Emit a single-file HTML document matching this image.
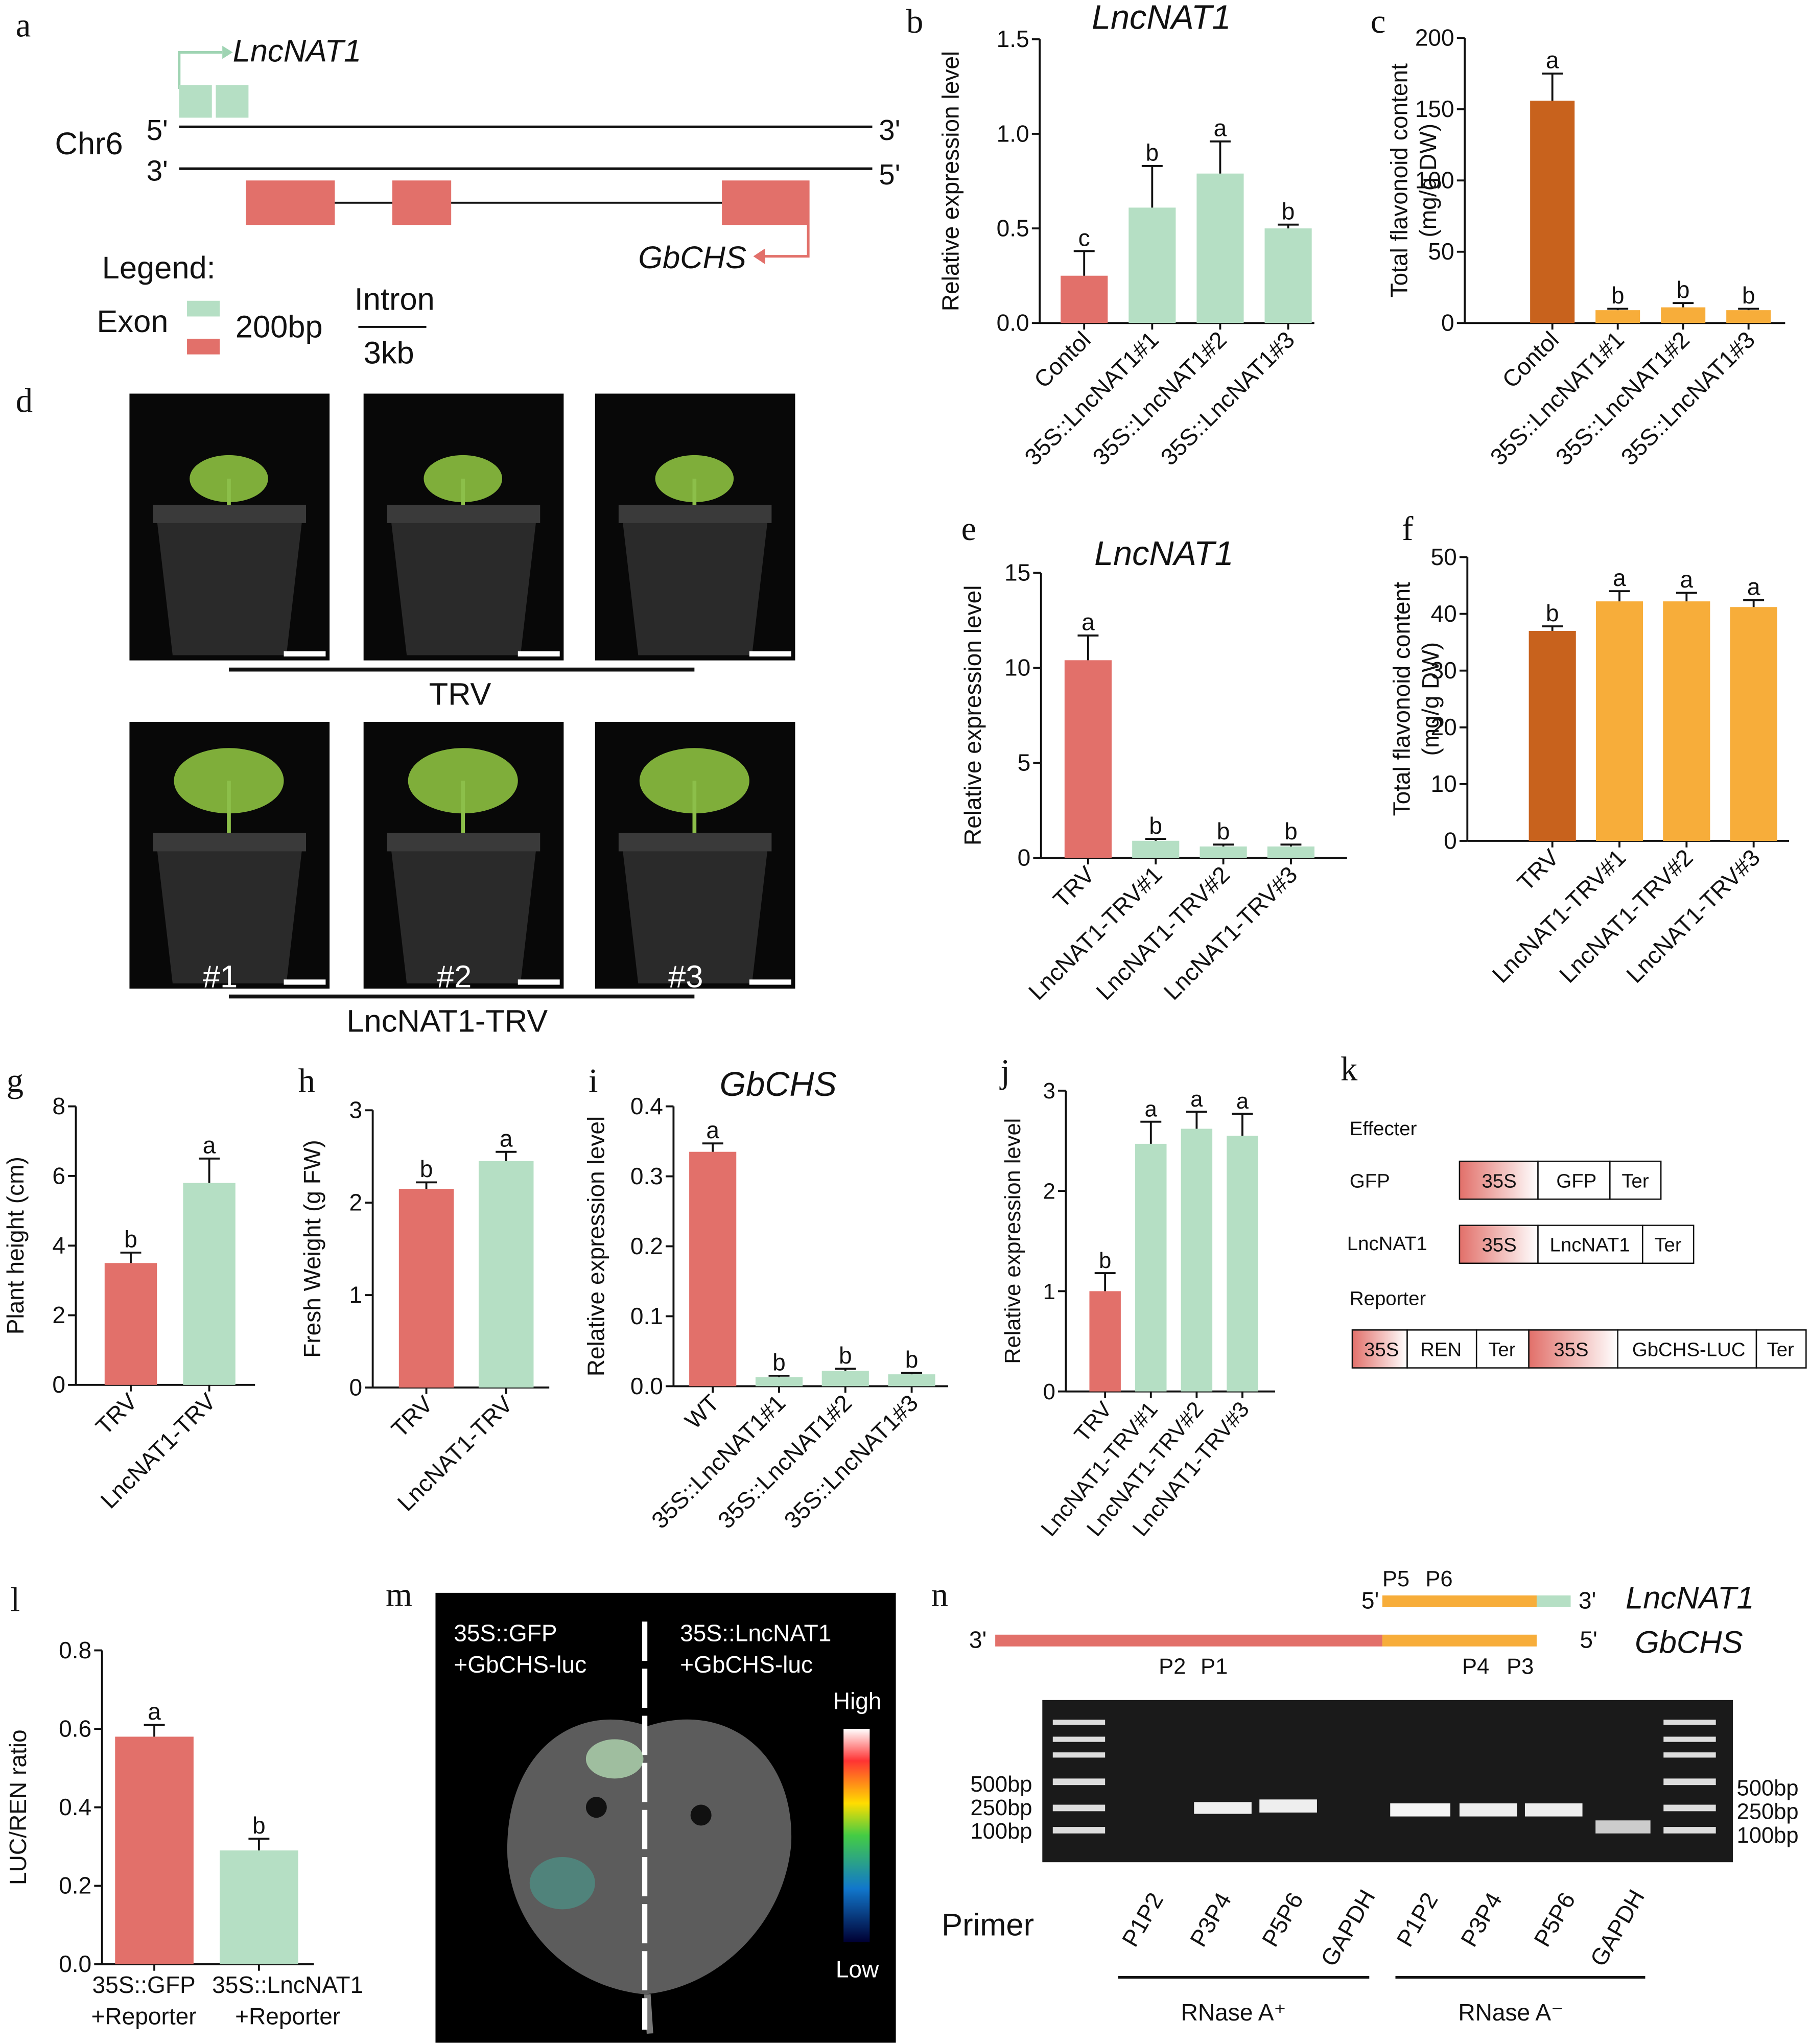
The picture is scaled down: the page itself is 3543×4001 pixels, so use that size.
<!DOCTYPE html>
<html><head><meta charset="utf-8"><style>
html,body{margin:0;padding:0;background:#fff}
svg{display:block}
text{font-family:"Liberation Sans",Arial,sans-serif;fill:#111}
</style></head><body>
<svg id="fig" xmlns="http://www.w3.org/2000/svg" width="3543" height="4001" viewBox="0 0 1384 1563" preserveAspectRatio="none">
<g id="static">
<g font-family="Liberation Serif" font-size="26">
<text x="12" y="28" style="font-family:'Liberation Serif'">a</text>
<text x="693" y="25" style="font-family:'Liberation Serif'">b</text>
<text x="1048" y="25" style="font-family:'Liberation Serif'">c</text>
<text x="12" y="315" style="font-family:'Liberation Serif'">d</text>
<text x="735" y="413" style="font-family:'Liberation Serif'">e</text>
<text x="1072" y="413" style="font-family:'Liberation Serif'">f</text>
<text x="5" y="835" style="font-family:'Liberation Serif'">g</text>
<text x="228" y="835" style="font-family:'Liberation Serif'">h</text>
<text x="450" y="835" style="font-family:'Liberation Serif'">i</text>
<text x="765" y="828" style="font-family:'Liberation Serif'">j</text>
<text x="1025" y="826" style="font-family:'Liberation Serif'">k</text>
<text x="8" y="1232" style="font-family:'Liberation Serif'">l</text>
<text x="295" y="1228" style="font-family:'Liberation Serif'">m</text>
<text x="712" y="1228" style="font-family:'Liberation Serif'">n</text>
</g>
<g>
<polyline points="137,68 137,40 170,40" fill="none" stroke="#9fd4b3" stroke-width="2"/>
<polygon points="170,35 178,40 170,45" fill="#9fd4b3"/>
<text x="178" y="47" font-size="24" font-style="italic">LncNAT1</text>
<rect x="137" y="65" width="25" height="25" fill="#b5dfc4"/><rect x="165" y="65" width="25" height="25" fill="#b5dfc4"/>
<text x="42" y="118" font-size="24">Chr6</text>
<text x="112" y="107" font-size="22">5'</text><line x1="137" y1="97" x2="667" y2="97" stroke="#111" stroke-width="2"/><text x="672" y="107" font-size="22">3'</text>
<text x="112" y="138" font-size="22">3'</text><line x1="137" y1="129" x2="667" y2="129" stroke="#111" stroke-width="2"/><text x="672" y="141" font-size="22">5'</text>
<line x1="255" y1="155" x2="552" y2="155" stroke="#111" stroke-width="1.5"/>
<rect x="188" y="138" width="68" height="34" fill="#e2706a"/><rect x="300" y="138" width="45" height="34" fill="#e2706a"/><rect x="552" y="138" width="67" height="34" fill="#e2706a"/>
<polyline points="618,172 618,196 585,196" fill="none" stroke="#e2706a" stroke-width="2"/><polygon points="585,190 576,196 585,202" fill="#e2706a"/>
<text x="488" y="205" font-size="24" font-style="italic">GbCHS</text>
<text x="78" y="213" font-size="24">Legend:</text>
<text x="74" y="254" font-size="24">Exon</text>
<rect x="143" y="230" width="25" height="12" fill="#b5dfc4"/><rect x="143" y="259" width="25" height="12" fill="#e2706a"/>
<text x="180" y="258" font-size="24">200bp</text>
<text x="271" y="237" font-size="24">Intron</text>
<line x1="274" y1="250" x2="326" y2="250" stroke="#111" stroke-width="1.5"/>
<text x="278" y="278" font-size="24">3kb</text>
</g>
<g id="photos"></g>
<line x1="175" y1="512" x2="531" y2="512" stroke="#111" stroke-width="3"/>
<text x="328" y="539" font-size="24">TRV</text>
<line x1="175" y1="762" x2="531" y2="762" stroke="#111" stroke-width="3"/>
<text x="265" y="789" font-size="24">LncNAT1-TRV</text>
<g font-size="15">
<defs><linearGradient id="g35" x1="0" x2="1"><stop offset="0" stop-color="#e2706a"/><stop offset="1" stop-color="#fff"/></linearGradient></defs>
<text x="1032" y="868">Effecter</text>
<text x="1032" y="908">GFP</text>
<rect x="1116" y="888" width="60" height="29" fill="url(#g35)" stroke="#111"/><text x="1133" y="908">35S</text>
<rect x="1176" y="888" width="55" height="29" fill="#fff" stroke="#111"/><text x="1190" y="908">GFP</text>
<rect x="1231" y="888" width="39" height="29" fill="#fff" stroke="#111"/><text x="1240" y="908">Ter</text>
<text x="1030" y="956">LncNAT1</text>
<rect x="1116" y="937" width="60" height="29" fill="url(#g35)" stroke="#111"/><text x="1133" y="957">35S</text>
<rect x="1176" y="937" width="80" height="29" fill="#fff" stroke="#111"/><text x="1185" y="957">LncNAT1</text>
<rect x="1256" y="937" width="39" height="29" fill="#fff" stroke="#111"/><text x="1265" y="957">Ter</text>
<text x="1032" y="998">Reporter</text>
<rect x="1034" y="1017" width="42" height="29" fill="url(#g35)" stroke="#111"/><text x="1043" y="1037">35S</text>
<rect x="1076" y="1017" width="53" height="29" fill="#fff" stroke="#111"/><text x="1086" y="1037">REN</text>
<rect x="1129" y="1017" width="40" height="29" fill="#fff" stroke="#111"/><text x="1138" y="1037">Ter</text>
<rect x="1169" y="1017" width="68" height="29" fill="url(#g35)" stroke="#111"/><text x="1188" y="1037">35S</text>
<rect x="1237" y="1017" width="106" height="29" fill="#fff" stroke="#111"/><text x="1248" y="1037">GbCHS-LUC</text>
<rect x="1343" y="1017" width="38" height="29" fill="#fff" stroke="#111"/><text x="1351" y="1037">Ter</text>
</g>
<g>
<rect x="333" y="1218" width="352" height="344" fill="#000"/>
<path d="M495,1320 C440,1300 385,1340 388,1420 C392,1480 440,1520 493,1525 C550,1520 600,1470 605,1410 C608,1340 555,1300 495,1320Z" fill="#5c5c5c"/>
<path d="M495,1525 L497,1555" stroke="#777" stroke-width="5"/>
<circle cx="456" cy="1382" r="8" fill="#111"/><circle cx="536" cy="1388" r="8" fill="#111"/>
<line x1="493" y1="1240" x2="493" y2="1552" stroke="#fff" stroke-width="4" stroke-dasharray="30,6"/>
<text x="347" y="1255" font-size="18" style="fill:#fff">35S::GFP</text>
<text x="347" y="1279" font-size="18" style="fill:#fff">+GbCHS-luc</text>
<text x="520" y="1255" font-size="18" style="fill:#fff">35S::LncNAT1</text>
<text x="520" y="1279" font-size="18" style="fill:#fff">+GbCHS-luc</text>
<defs><linearGradient id="heat" x1="0" y1="0" x2="0" y2="1"><stop offset="0" stop-color="#fff"/><stop offset="0.15" stop-color="#f33"/><stop offset="0.35" stop-color="#fd0"/><stop offset="0.5" stop-color="#4c4"/><stop offset="0.75" stop-color="#17c"/><stop offset="1" stop-color="#003"/></linearGradient></defs>
<rect x="645" y="1322" width="20" height="163" fill="url(#heat)"/>
<text x="637" y="1307" font-size="18" style="fill:#fff">High</text>
<text x="639" y="1512" font-size="18" style="fill:#fff">Low</text>
<ellipse cx="470" cy="1345" rx="22" ry="15" fill="#cfc" opacity="0.6"/><ellipse cx="430" cy="1440" rx="25" ry="20" fill="#4a9" opacity="0.5"/>
</g>
<g>
<text x="1057" y="1213" font-size="17">P5</text><text x="1090" y="1213" font-size="17">P6</text>
<text x="1041" y="1230" font-size="18">5'</text>
<rect x="1057" y="1220" width="118" height="9" fill="#f7ad3a"/><rect x="1175" y="1220" width="26" height="9" fill="#b5dfc4"/>
<text x="1207" y="1230" font-size="18">3'</text>
<text x="1243" y="1230" font-size="24" font-style="italic">LncNAT1</text>
<text x="741" y="1260" font-size="18">3'</text>
<rect x="761" y="1250" width="296" height="9" fill="#e2706a"/><rect x="1057" y="1250" width="118" height="9" fill="#f7ad3a"/>
<text x="1208" y="1260" font-size="18">5'</text>
<text x="1250" y="1264" font-size="24" font-style="italic">GbCHS</text>
<text x="886" y="1280" font-size="17">P2</text><text x="918" y="1280" font-size="17">P1</text>
<text x="1118" y="1280" font-size="17">P4</text><text x="1152" y="1280" font-size="17">P3</text>
<rect x="797" y="1300" width="528" height="124" fill="#1a1a1a"/>
<g fill="#ddd"><rect x="805" y="1315" width="40" height="4"/><rect x="805" y="1328" width="40" height="4"/><rect x="805" y="1340" width="40" height="4"/><rect x="805" y="1360" width="40" height="5"/><rect x="805" y="1380" width="40" height="5"/><rect x="805" y="1397" width="40" height="5"/>
<rect x="1272" y="1315" width="40" height="4"/><rect x="1272" y="1328" width="40" height="4"/><rect x="1272" y="1340" width="40" height="4"/><rect x="1272" y="1360" width="40" height="5"/><rect x="1272" y="1380" width="40" height="5"/><rect x="1272" y="1397" width="40" height="5"/>
<rect x="913" y="1378" width="44" height="9" fill="#eee"/><rect x="963" y="1376" width="44" height="10" fill="#eee"/>
<rect x="1063" y="1379" width="46" height="10" fill="#f5f5f5"/><rect x="1116" y="1379" width="44" height="10" fill="#eee"/><rect x="1166" y="1379" width="44" height="10" fill="#eee"/><rect x="1220" y="1392" width="42" height="10" fill="#ccc"/></g>
<g font-size="17"><text x="742" y="1370">500bp</text><text x="742" y="1388">250bp</text><text x="742" y="1406">100bp</text>
<text x="1328" y="1373">500bp</text><text x="1328" y="1391">250bp</text><text x="1328" y="1409">100bp</text></g>
<text x="720" y="1480" font-size="24">Primer</text>
<g font-size="18">
<text transform="translate(868,1490) rotate(-60)">P1P2</text><text transform="translate(920,1490) rotate(-60)">P3P4</text>
<text transform="translate(975,1490) rotate(-60)">P5P6</text><text transform="translate(1020,1505) rotate(-60)">GAPDH</text>
<text transform="translate(1078,1490) rotate(-60)">P1P2</text><text transform="translate(1127,1490) rotate(-60)">P3P4</text>
<text transform="translate(1183,1490) rotate(-60)">P5P6</text><text transform="translate(1226,1505) rotate(-60)">GAPDH</text></g>
<line x1="855" y1="1512" x2="1047" y2="1512" stroke="#111" stroke-width="2"/>
<line x1="1067" y1="1512" x2="1258" y2="1512" stroke="#111" stroke-width="2"/>
<text x="903" y="1545" font-size="18">RNase A⁺</text><text x="1115" y="1545" font-size="18">RNase A⁻</text>
</g>
</g>
<g id="charts"></g>
</svg>
<script>
var bCats=['Contol','35S::LncNAT1#1','35S::LncNAT1#2','35S::LncNAT1#3'];
var bVals=[0.25,0.61,0.79,0.50];var bErr=[0.13,0.22,0.17,0.02];var bLet=['c','b','a','b'];var bTicks=['0.0','0.5','1.0','1.5'];
var cCats=['Contol','35S::LncNAT1#1','35S::LncNAT1#2','35S::LncNAT1#3'];
var cVals=[156,9,11,9];var cErr=[19,1,3,1];var cLet=['a','b','b','b'];var cTicks=['0','50','100','150','200'];
var eCats=['TRV','LncNAT1-TRV#1','LncNAT1-TRV#2','LncNAT1-TRV#3'];
var eVals=[10.4,0.9,0.6,0.6];var eErr=[1.3,0.1,0.1,0.1];var eLet=['a','b','b','b'];var eTicks=['0','5','10','15'];
var fCats=['TRV','LncNAT1-TRV#1','LncNAT1-TRV#2','LncNAT1-TRV#3'];
var fVals=[37,42.2,42.2,41.2];var fErr=[0.8,1.8,1.5,1.2];var fLet=['b','a','a','a'];var fTicks=['0','10','20','30','40','50'];
var gCats=['TRV','LncNAT1-TRV'];var gVals=[3.5,5.8];var gErr=[0.3,0.7];var gLet=['b','a'];var gTicks=['0','2','4','6','8'];
var hCats=['TRV','LncNAT1-TRV'];var hVals=[2.15,2.45];var hErr=[0.07,0.1];var hLet=['b','a'];var hTicks=['0','1','2','3'];
var iCats=['WT','35S::LncNAT1#1','35S::LncNAT1#2','35S::LncNAT1#3'];
var iVals=[0.335,0.013,0.022,0.017];var iErr=[0.012,0.002,0.003,0.002];var iLet=['a','b','b','b'];var iTicks=['0.0','0.1','0.2','0.3','0.4'];
var jCats=['TRV','LncNAT1-TRV#1','LncNAT1-TRV#2','LncNAT1-TRV#3'];
var jVals=[1.0,2.47,2.62,2.55];var jErr=[0.18,0.22,0.17,0.22];var jLet=['b','a','a','a'];var jTicks=['0','1','2','3'];
var lCats=['35S::GFP\n+Reporter','35S::LncNAT1\n+Reporter'];var lVals=[0.58,0.29];var lErr=[0.03,0.03];var lLet=['a','b'];var lTicks=['0.0','0.2','0.4','0.6','0.8'];

var NS='http://www.w3.org/2000/svg';
var root=document.getElementById('charts');
function el(t,a,p){var e=document.createElementNS(NS,t);for(var k in a)e.setAttribute(k,a[k]);(p||root).appendChild(e);return e;}
var RED='#e2706a',GRN='#b5dfc4',DOR='#c8621d',ORG='#f7ad3a';

function chart(id,cats,vals,errs,lets,ticks,L){
  var g=el('g',{});
  
  
  var max=parseFloat(ticks[ticks.length-1]);
  function y(v){return L.y0-(v/max)*(L.y0-L.y1);}
  function x(i){return L.c0+i*L.step;}
  el('line',{x1:L.ax,y1:L.y1,x2:L.ax,y2:L.y0,stroke:'#111','stroke-width':1.5},g);
  el('line',{x1:L.ax,y1:L.y0,x2:L.xe,y2:L.y0,stroke:'#111','stroke-width':1.5},g);
  ticks.forEach(function(t){var v=parseFloat(t);var yy=y(v);
    el('line',{x1:L.ax-6,y1:yy,x2:L.ax,y2:yy,stroke:'#111','stroke-width':1.5},g);
    var tx=el('text',{x:L.ax-8,y:yy+6,'font-size':L.fs,'text-anchor':'end'},g);tx.textContent=t;
    
    
  });
  vals.forEach(function(v,i){
    var cx=x(i);var col=L.colors[i];
    var r=el('rect',{x:cx-L.bw/2,y:y(v),width:L.bw,height:L.y0-y(v),fill:col},g);
    
    
    var ye=y(v+errs[i]);
    el('line',{x1:cx,y1:y(v),x2:cx,y2:ye,stroke:'#111','stroke-width':1.5},g);
    el('line',{x1:cx-8,y1:ye,x2:cx+8,y2:ye,stroke:'#111','stroke-width':1.5},g);
    var lt=el('text',{x:cx,y:ye-4,'font-size':L.fs,'text-anchor':'middle'},g);lt.textContent=lets[i];
    
    
    el('line',{x1:cx,y1:L.y0,x2:cx,y2:L.y0+5,stroke:'#111','stroke-width':1.5},g);
    if(L.flat){
      var parts=cats[i].split('\n');
      var off=L.labOff?L.labOff[i]:0;
      parts.forEach(function(p,k){var ct=el('text',{x:cx+off,y:L.y0+22+k*24,'font-size':L.fs,'text-anchor':'middle'},g);ct.textContent=p;
        
        });
    } else {
      var ct=el('text',{transform:'translate('+(cx+6)+','+(L.y0+14)+') rotate(-'+(L.rot||45)+')','font-size':L.fs,'text-anchor':'end'},g);ct.textContent=cats[i];
      
      
    }
  });
  var yt=el('text',{transform:'translate('+L.yl+','+((L.y0+L.y1)/2)+') rotate(-90)','font-size':L.fs,'text-anchor':'middle'},g);
  
  
  var lines=L.ytitle.split('\n');
  lines.forEach(function(s,k){var ts=el('tspan',{x:0,dy:k?22:0},yt);ts.textContent=s;});
  if(L.title){var tt=el('text',{x:L.tx,y:L.ty,'font-size':26,'font-style':'italic','text-anchor':'middle'},g);tt.textContent=L.title;
    
    }
}
chart('b',bCats,bVals,bErr,bLet,bTicks,{ax:795,xe:1005,y0:247,y1:30,c0:829,step:52,bw:36,fs:18,colors:[RED,GRN,GRN,GRN],yl:733,ytitle:'Relative expression level',title:'LncNAT1',tx:888,ty:22});
chart('c',cCats,cVals,cErr,cLet,cTicks,{ax:1120,xe:1365,y0:247,y1:29,c0:1187,step:50,bw:34,fs:18,colors:[DOR,ORG,ORG,ORG],yl:1076,ytitle:'Total flavonoid content\n(mg/g  DW)'});
chart('e',eCats,eVals,eErr,eLet,eTicks,{ax:796,xe:1030,y0:656,y1:438,c0:832,step:51.7,bw:36,fs:18,colors:[RED,GRN,GRN,GRN],yl:750,ytitle:'Relative expression level',title:'LncNAT1',tx:890,ty:432});
chart('f',fCats,fVals,fErr,fLet,fTicks,{ax:1122,xe:1368,y0:643,y1:426,c0:1187,step:51.3,bw:36,fs:18,colors:[DOR,ORG,ORG,ORG],yl:1078,ytitle:'Total flavonoid content\n(mg/g  DW)'});
chart('g',gCats,gVals,gErr,gLet,gTicks,{ax:58,xe:195,y0:1059,y1:846,c0:100,step:60,bw:40,fs:18,colors:[RED,GRN],yl:18,ytitle:'Plant height (cm)'});
chart('h',hCats,hVals,hErr,hLet,hTicks,{ax:285,xe:420,y0:1061,y1:849,c0:326,step:61,bw:42,fs:18,colors:[RED,GRN],yl:245,ytitle:'Fresh Weight (g FW)'});
chart('i',iCats,iVals,iErr,iLet,iTicks,{ax:515,xe:725,y0:1060,y1:846,c0:545,step:50.7,bw:36,fs:18,colors:[RED,GRN,GRN,GRN],yl:462,ytitle:'Relative expression level',title:'GbCHS',tx:595,ty:838});
chart('j',jCats,jVals,jErr,jLet,jTicks,{ax:815,xe:975,y0:1064,y1:834,c0:845,step:35,bw:24,fs:17,colors:[RED,GRN,GRN,GRN],yl:780,ytitle:'Relative expression level',rot:50});
chart('l',lCats,lVals,lErr,lLet,lTicks,{ax:78,xe:240,y0:1502,y1:1262,c0:118,step:80,bw:60,fs:18,colors:[RED,GRN],yl:20,ytitle:'LUC/REN ratio',flat:true,labOff:[-8,22]});

var ph=document.getElementById('photos');
var pics=[[99,301,''],[278,301,''],[455,301,''],[99,552,'#1'],[278,552,'#2'],[455,552,'#3']];
pics.forEach(function(p,i){
  var g=el('g',{},ph);
  
  
  el('rect',{x:p[0],y:p[1],width:153,height:204,fill:'#080808'},g);
  el('path',{d:'M'+(p[0]+20)+','+(p[1]+88)+' L'+(p[0]+133)+','+(p[1]+88)+' L'+(p[0]+120)+','+(p[1]+200)+' L'+(p[0]+33)+','+(p[1]+200)+'Z',fill:'#2a2a2a'},g);
  el('rect',{x:p[0]+18,y:p[1]+85,width:117,height:14,fill:'#3a3a3a'},g);
  var big=i>=3;
  el('ellipse',{cx:p[0]+76,cy:p[1]+(big?45:65),rx:big?42:30,ry:big?25:18,fill:'#7fae3a'},g);
  el('line',{x1:p[0]+76,y1:p[1]+85,x2:p[0]+76,y2:p[1]+(big?45:65),stroke:'#8cbf4a','stroke-width':3},g);
  el('rect',{x:p[0]+118,y:p[1]+197,width:32,height:4,fill:'#fff'},g);
  if(p[2]){var t=el('text',{x:p[0]+56,y:p[1]+203,'font-size':24,style:'fill:#fff'},g);t.textContent=p[2];}
});
</script>
</body></html>
